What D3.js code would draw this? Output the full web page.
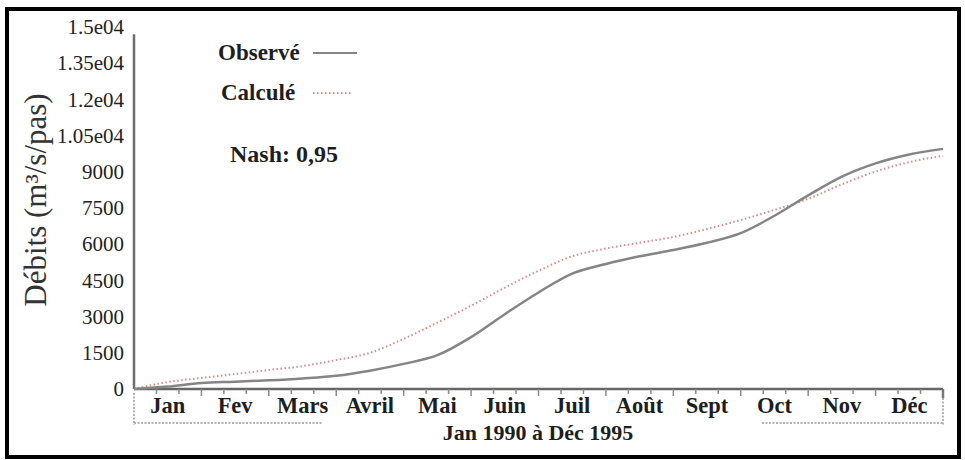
<!DOCTYPE html>
<html>
<head>
<meta charset="utf-8">
<script src="https://cdn.jsdelivr.net/npm/d3@7.9.0/dist/d3.min.js"></script>
<style>
  body { margin: 0; background: #fff; }
  #chart text { font-family: "Liberation Serif", "DejaVu Serif", serif; }
</style>
</head>
<body>
<svg id="chart" width="965" height="460"></svg>
<script>
// months along the x axis, curves sampled every half month
const months = ['Jan', 'Fev', 'Mars', 'Avril', 'Mai', 'Juin', 'Juil', 'Août', 'Sept', 'Oct', 'Nov', 'Déc'];
const steps = d3.range(0, 12.5, 0.5);
const observe = [0, 100, 250, 300, 360, 440, 550, 760, 1040, 1400, 2150, 3100, 4000, 4780, 5180, 5500, 5760, 6060, 6460, 7180, 8020, 8800, 9350, 9720, 9950];
const calcule = [0, 290, 455, 620, 790, 950, 1200, 1500, 2080, 2750, 3450, 4200, 4900, 5500, 5820, 6060, 6300, 6630, 7000, 7420, 7880, 8480, 9010, 9400, 9660];
const yTicks = [0, 1500, 3000, 4500, 6000, 7500, 9000, 10500, 12000, 13500, 15000];
const yTickLabels = ['0', '1500', '3000', '4500', '6000', '7500', '9000', '1.05e04', '1.2e04', '1.35e04', '1.5e04'];
const nash = '0,95';

const serif = '"Liberation Serif", "DejaVu Serif", serif';
const ink = '#1e1e1e';
const svg = d3.select('#chart');

// outer frame
svg.append('rect')
  .attr('x', 7).attr('y', 9).attr('width', 952).attr('height', 448)
  .attr('fill', 'none').attr('stroke', '#000').attr('stroke-width', 4);

const x = d3.scaleLinear().domain([0, 12]).range([134, 943]);
const y = d3.scaleLinear().domain([0, 15000]).range([389, 27]);

// y axis: labels only, the line is drawn separately
const yAxis = svg.append('g')
  .attr('transform', `translate(${x(0)},0)`)
  .call(d3.axisLeft(y).tickValues(yTicks).tickSize(0).tickPadding(10)
    .tickFormat((d, i) => yTickLabels[i]));
yAxis.attr('font-family', null).attr('font-size', null);
yAxis.select('.domain').remove();
yAxis.selectAll('text')
  .style('font-family', serif)
  .style('font-size', '21px')
  .attr('fill', '#222');

svg.append('line')
  .attr('x1', x(0)).attr('x2', x(0))
  .attr('y1', y(0)).attr('y2', y(14700))
  .attr('stroke', '#6e6e6e').attr('stroke-width', 2.5);

// x axis with major ticks at month edges and two minor ticks inside
const xAxis = svg.append('g').attr('transform', `translate(0,${y(0)})`);
xAxis.append('line')
  .attr('x1', x(0)).attr('x2', x(12))
  .attr('stroke', '#666').attr('stroke-width', 2.5);

const ticks = d3.range(0, 36).map(i => i / 3).filter(d => d > 0);
xAxis.selectAll('.tick')
  .data(ticks)
  .join('line')
  .attr('class', 'tick')
  .attr('x1', d => x(d)).attr('x2', d => x(d))
  .attr('y1', 0)
  .attr('y2', d => Math.abs(d - Math.round(d)) < 1e-6 ? 7 : 5)
  .attr('stroke', '#8a8a8a').attr('stroke-width', 1.5);

xAxis.append('line')
  .attr('x1', x(12)).attr('x2', x(12))
  .attr('y1', 0).attr('y2', 9)
  .attr('stroke', '#777').attr('stroke-width', 2.5);

xAxis.selectAll('.month')
  .data(months)
  .join('text')
  .attr('class', 'month')
  .attr('x', (d, i) => x(i + 0.5))
  .attr('y', 24)
  .attr('text-anchor', 'middle')
  .style('font-family', serif)
  .style('font-size', '22.5px')
  .attr('font-weight', 'bold')
  .attr('fill', ink)
  .text(d => d);

// dotted brackets under the axis
const bracket = [
  [x(0), y(0) + 4, x(0), 425],
  [x(0), 423, 322, 423],
  [x(12), y(0) + 9, x(12), 425],
  [762, 423, x(12), 423]
];
bracket.forEach(([x1, y1, x2, y2]) => {
  svg.append('line')
    .attr('x1', x1).attr('y1', y1).attr('x2', x2).attr('y2', y2)
    .attr('stroke', '#9a9a9a')
    .attr('stroke-width', 1.5)
    .attr('stroke-dasharray', '2,1.5');
});

svg.append('text')
  .attr('x', 538).attr('y', 440)
  .attr('text-anchor', 'middle')
  .style('font-family', serif)
  .style('font-size', '22px')
  .attr('font-weight', 'bold')
  .attr('fill', ink)
  .text('Jan 1990 à Déc 1995');

svg.append('text')
  .attr('transform', 'translate(46,200) rotate(-90)')
  .attr('text-anchor', 'middle')
  .style('font-family', serif)
  .style('font-size', '31px')
  .attr('fill', '#333')
  .text('Débits (m³/s/pas)');

// curves
const line = d3.line()
  .x((d, i) => x(steps[i]))
  .y(d => y(d))
  .curve(d3.curveMonotoneX);

svg.append('path')
  .datum(calcule)
  .attr('d', line)
  .attr('fill', 'none')
  .attr('stroke', '#d98a8a')
  .attr('stroke-width', 2)
  .attr('stroke-dasharray', '1.5,2.5');

svg.append('path')
  .datum(observe)
  .attr('d', line)
  .attr('fill', 'none')
  .attr('stroke', '#858585')
  .attr('stroke-width', 2.5);

// legend
const legend = svg.append('g');
legend.append('text')
  .attr('x', 218).attr('y', 60)
  .style('font-family', serif).style('font-size', '23px')
  .attr('font-weight', 'bold').attr('fill', ink)
  .text('Observé');
legend.append('line')
  .attr('x1', 313).attr('x2', 357).attr('y1', 53).attr('y2', 53)
  .attr('stroke', '#858585').attr('stroke-width', 2);
legend.append('text')
  .attr('x', 221).attr('y', 100)
  .style('font-family', serif).style('font-size', '23px')
  .attr('font-weight', 'bold').attr('fill', ink)
  .text('Calculé');
legend.append('line')
  .attr('x1', 313).attr('x2', 353).attr('y1', 93).attr('y2', 93)
  .attr('stroke', '#d98a8a').attr('stroke-width', 2)
  .attr('stroke-dasharray', '1.5,2.5');

svg.append('text')
  .attr('x', 230).attr('y', 162)
  .style('font-family', serif).style('font-size', '24px')
  .attr('font-weight', 'bold').attr('fill', ink)
  .text(`Nash: ${nash}`);
</script>
</body>
</html>
